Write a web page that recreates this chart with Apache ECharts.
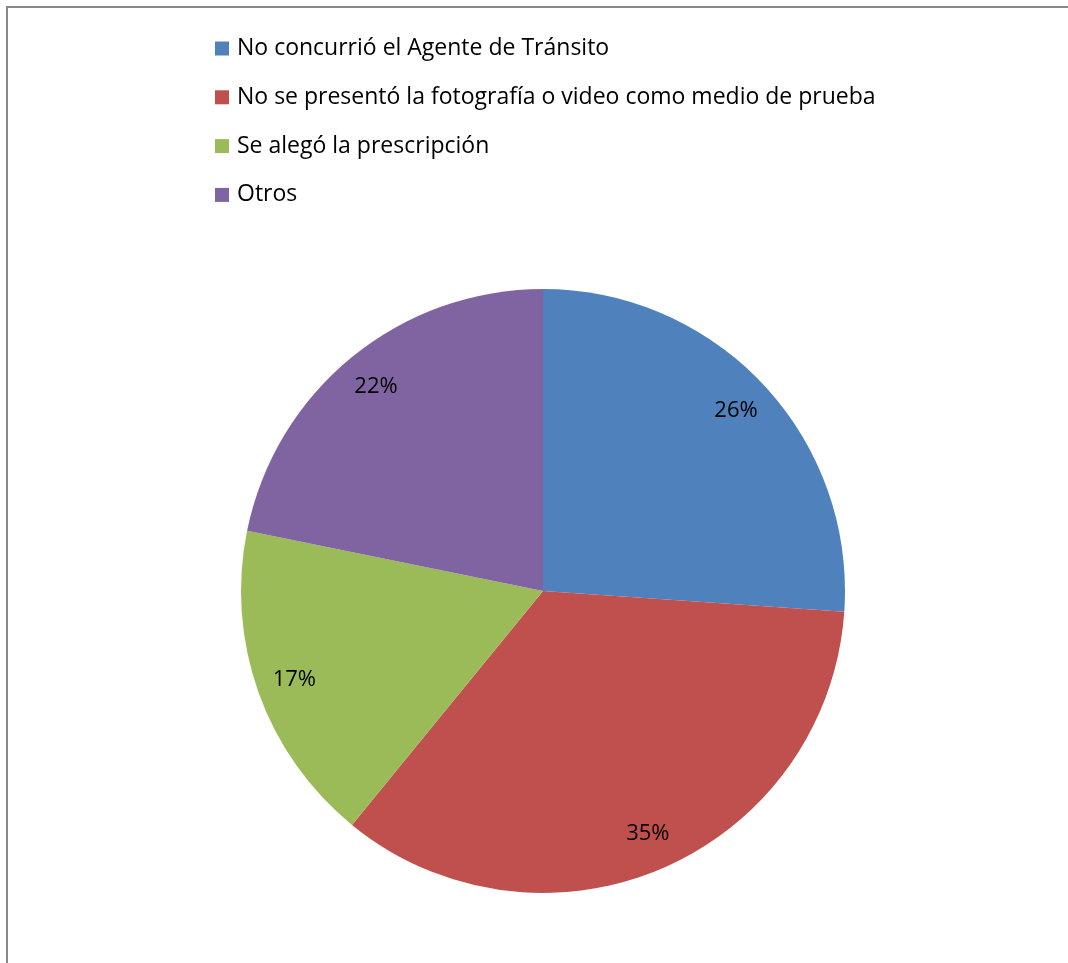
<!DOCTYPE html>
<html><head><meta charset="utf-8">
<script src="https://cdn.jsdelivr.net/npm/echarts@6/dist/echarts.min.js"></script>
<style>html,body{margin:0;padding:0;background:#fff}#c{width:1068px;height:963px}</style>
</head><body><div id="c"></div>
<script>
const categories = ["No concurrió el Agente de Tránsito","No se presentó la fotografía o video como medio de prueba","Se alegó la prescripción","Otros"];
const values = [26.1, 34.8, 17.3, 21.8];
const labels = ["26%","35%","17%","22%"];
const colors = ["#4F81BD","#C0504D","#9BBB59","#8064A2"];

const chart = echarts.init(document.getElementById('c'));
const data = categories.map((n,i)=>({name:n,value:values[i],itemStyle:{color:colors[i]}}));
const labelData = categories.map((n,i)=>({name:n,value:values[i]}));
chart.setOption({
  animation:false,
  color:colors,
  graphic:[{type:'rect',shape:{x:7,y:7,width:1100,height:1000},style:{fill:'none',stroke:'#898989',lineWidth:2},silent:true}],
  legend:{
    orient:'vertical', left:215, top:37, padding:0, itemWidth:14, itemHeight:14, itemGap:25.8,
    icon:'rect', data:categories,
    textStyle:{fontFamily:'Open Sans', fontSize:23, color:'#000', lineHeight:20, padding:[0,0,0,3]}
  },
  series:[
    {type:'pie', center:[543,591], radius:[0,302], startAngle:90, clockwise:true,
     label:{show:false}, labelLine:{show:false}, data:data, silent:true},
    {type:'pie', center:[543,591], radius:[220,302], startAngle:90, clockwise:true, silent:true,
     itemStyle:{color:'rgba(0,0,0,0)'}, emphasis:{disabled:true},
     label:{show:true, position:'inside', formatter:p=>labels[p.dataIndex], fontFamily:'Open Sans', fontSize:22, color:'#000'},
     labelLine:{show:false}, data:labelData}
  ]
});
</script></body></html>
